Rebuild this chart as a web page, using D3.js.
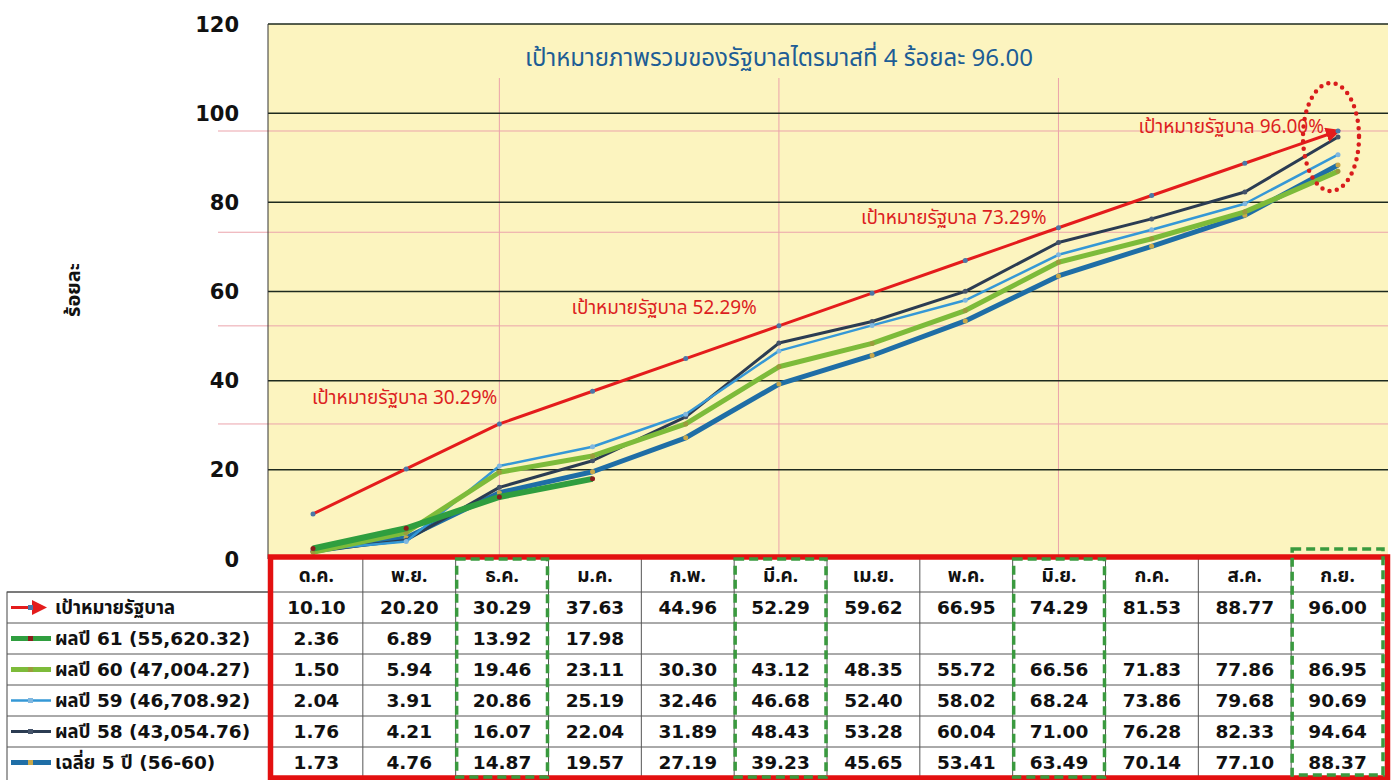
<!DOCTYPE html>
<html>
<head>
<meta charset="utf-8">
<script src="https://cdn.jsdelivr.net/npm/d3@7"></script>
<style>
    body { margin: 0; background: #fff; }
    svg { display: block; }
    .thai { font-family: "Noto Sans Thai", "Noto Sans", "DejaVu Sans", sans-serif; }
    .mixed { font-family: "DejaVu Sans", "Noto Sans Thai", sans-serif; }
    .num { font-family: "DejaVu Sans", sans-serif; font-weight: bold; }
</style>
</head>
<body>
<div id="chart"></div>
<script>
const months = ["ด.ค.", "พ.ย.", "ธ.ค.", "ม.ค.", "ก.พ.", "มี.ค.", "เม.ย.", "พ.ค.", "มิ.ย.", "ก.ค.", "ส.ค.", "ก.ย."];
const target = [10.10, 20.20, 30.29, 37.63, 44.96, 52.29, 59.62, 66.95, 74.29, 81.53, 88.77, 96.00];
const result61 = [2.36, 6.89, 13.92, 17.98, null, null, null, null, null, null, null, null];
const result60 = [1.50, 5.94, 19.46, 23.11, 30.30, 43.12, 48.35, 55.72, 66.56, 71.83, 77.86, 86.95];
const result59 = [2.04, 3.91, 20.86, 25.19, 32.46, 46.68, 52.40, 58.02, 68.24, 73.86, 79.68, 90.69];
const result58 = [1.76, 4.21, 16.07, 22.04, 31.89, 48.43, 53.28, 60.04, 71.00, 76.28, 82.33, 94.64];
const avg5 = [1.73, 4.76, 14.87, 19.57, 27.19, 39.23, 45.65, 53.41, 63.49, 70.14, 77.10, 88.37];
const seriesLabels = ["เป้าหมายรัฐบาล", "ผลปี 61 (55,620.32)", "ผลปี 60 (47,004.27)", "ผลปี 59 (46,708.92)", "ผลปี 58 (43,054.76)", "เฉลี่ย 5 ปี (56-60)"];
const quarterMonths = ["ธ.ค.", "มี.ค.", "มิ.ย.", "ก.ย."];
const quarterTargets = [30.29, 52.29, 73.29, 96.00];
const yTicks = [0, 20, 40, 60, 80, 100, 120];
const title = "เป้าหมายภาพรวมของรัฐบาลไตรมาสที่ 4 ร้อยละ 96.00";
const yTitle = "ร้อยละ";

const width = 1391, height = 780;
const plot = {left: 268, right: 1388, top: 24, bottom: 559};

const svg = d3.select("#chart").append("svg")
    .attr("width", width)
    .attr("height", height);

const y = d3.scaleLinear().domain([0, 120]).range([plot.bottom, plot.top]);
const x = d3.scalePoint().domain(months).range([313, 1338]);
const col = d3.scaleBand().domain(months).range([270, 1384]);

// series: drawn bottom to top
const series = [
    {name: seriesLabels[5], values: avg5, color: "#1f6ea6", w: 5, dot: "#c9a84a"},
    {name: seriesLabels[4], values: result58, color: "#2b3c52", w: 3, dot: "#44536a"},
    {name: seriesLabels[3], values: result59, color: "#3598d6", w: 2.5, dot: "#7fb7e0"},
    {name: seriesLabels[2], values: result60, color: "#7dbb3a", w: 5, dot: "#9c9a3c"},
    {name: seriesLabels[1], values: result61, color: "#2f9e3f", w: 6, dot: "#8b1c1c"},
    {name: seriesLabels[0], values: target, color: "#e41c1c", w: 3, dot: "#4b77a8"},
];

const defs = svg.append("defs");
defs.append("marker")
    .attr("id", "arrow")
    .attr("viewBox", "0 0 10 10")
    .attr("refX", 8).attr("refY", 5)
    .attr("markerWidth", 5).attr("markerHeight", 5)
    .attr("orient", "auto")
    .attr("markerUnits", "strokeWidth")
    .append("path")
    .attr("d", "M0,0 L10,5 L0,10 z")
    .attr("fill", "#e41c1c");

// plot background
svg.append("rect")
    .attr("x", plot.left).attr("y", plot.top)
    .attr("width", plot.right - plot.left).attr("height", plot.bottom - plot.top)
    .attr("fill", "#fcf4bf");

// pink guide lines for the quarter targets
svg.append("g").selectAll("line")
    .data(quarterTargets)
    .join("line")
    .attr("x1", 218).attr("x2", plot.right)
    .attr("y1", d => y(d)).attr("y2", d => y(d))
    .attr("stroke", "#eba3ab").attr("stroke-width", 1);

svg.append("g").selectAll("line")
    .data(quarterMonths.slice(0, 3))
    .join("line")
    .attr("x1", d => x(d)).attr("x2", d => x(d))
    .attr("y1", 78).attr("y2", plot.bottom)
    .attr("stroke", "#eba3ab").attr("stroke-width", 1);

// gridlines
svg.append("g").selectAll("line")
    .data(yTicks.filter(d => d > 0))
    .join("line")
    .attr("x1", plot.left).attr("x2", plot.right)
    .attr("y1", d => y(d)).attr("y2", d => y(d))
    .attr("stroke", "#1e2a1e").attr("stroke-width", 1.5);

svg.append("line")
    .attr("x1", plot.left).attr("x2", plot.left)
    .attr("y1", plot.top).attr("y2", plot.bottom)
    .attr("stroke", "#333").attr("stroke-width", 1);

// y axis labels
svg.append("g").selectAll("text")
    .data(yTicks)
    .join("text")
    .attr("class", "num")
    .attr("x", 239)
    .attr("y", d => y(d))
    .attr("dy", "0.36em")
    .attr("text-anchor", "end")
    .attr("font-size", 21)
    .attr("fill", "#111")
    .text(d => d);

svg.append("text")
    .attr("class", "thai")
    .attr("transform", "translate(80,290) rotate(-90)")
    .attr("text-anchor", "middle")
    .attr("font-weight", "bold")
    .attr("font-size", 20)
    .attr("fill", "#111")
    .text(yTitle);

svg.append("text")
    .attr("class", "thai")
    .attr("x", 779).attr("y", 66)
    .attr("text-anchor", "middle")
    .attr("font-size", 24)
    .attr("fill", "#1d5d95")
    .text(title);

// lines
const line = d3.line()
    .defined(d => d.v !== null)
    .x(d => x(d.m))
    .y(d => y(d.v));

series.forEach((s, i) => {
    let pts = s.values.map((v, j) => ({m: months[j], v: v}));
    let path = svg.append("path")
        .datum(pts)
        .attr("d", line)
        .attr("fill", "none")
        .attr("stroke", s.color)
        .attr("stroke-width", s.w)
        .attr("stroke-linejoin", "round");
    if (s.values === target) {
        path.attr("marker-end", "url(#arrow)");
    }
    svg.append("g").selectAll("circle")
        .data(pts.filter(d => d.v !== null))
        .join("circle")
        .attr("cx", d => x(d.m))
        .attr("cy", d => y(d.v))
        .attr("r", 2.5)
        .attr("fill", s.dot);
});

// target annotations
const annoOffsets = [[-2, -20], [-22, -12], [-12, -8], [-14, 2]];
svg.append("g").selectAll("text")
    .data(quarterTargets)
    .join("text")
    .attr("class", "thai")
    .attr("x", (d, i) => x(quarterMonths[i]) + annoOffsets[i][0])
    .attr("y", (d, i) => y(d) + annoOffsets[i][1])
    .attr("text-anchor", "end")
    .attr("font-size", 19)
    .attr("fill", "#dc1f1f")
    .text(d => "เป้าหมายรัฐบาล " + d.toFixed(2) + "%");

// dotted ellipse around September
svg.append("ellipse")
    .attr("cx", x("ก.ย.") - 7).attr("cy", y(96) + 6)
    .attr("rx", 28).attr("ry", 54)
    .attr("fill", "none")
    .attr("stroke", "#d91c1c")
    .attr("stroke-width", 4.5)
    .attr("stroke-linecap", "round")
    .attr("stroke-dasharray", "0 7.5");

// data table
const tableTop = 557, headH = 35, rowH = 31;
const rows = [target, result61, result60, result59, result58, avg5];
const table = svg.append("g");

table.append("rect")
    .attr("x", 270).attr("y", tableTop)
    .attr("width", 1114).attr("height", 230)
    .attr("fill", "#fff");
table.append("rect")
    .attr("x", 7).attr("y", tableTop + headH)
    .attr("width", 263).attr("height", 200)
    .attr("fill", "#fff")
    .attr("stroke", "#444").attr("stroke-width", 1);

// horizontal rules
table.selectAll(".hrule")
    .data(d3.range(rows.length))
    .join("line")
    .attr("x1", 7).attr("x2", 1384)
    .attr("y1", i => tableTop + headH + i * rowH)
    .attr("y2", i => tableTop + headH + i * rowH)
    .attr("stroke", "#555").attr("stroke-width", 1);

// vertical rules
table.selectAll(".vrule")
    .data(months.slice(1))
    .join("line")
    .attr("x1", d => col(d)).attr("x2", d => col(d))
    .attr("y1", tableTop).attr("y2", height)
    .attr("stroke", "#555").attr("stroke-width", 1);

// header
table.selectAll(".head")
    .data(months)
    .join("text")
    .attr("class", "thai")
    .attr("x", d => col(d) + col.bandwidth() / 2)
    .attr("y", tableTop + headH / 2 + 1)
    .attr("dy", "0.36em")
    .attr("text-anchor", "middle")
    .attr("font-weight", "bold")
    .attr("font-size", 19)
    .attr("fill", "#111")
    .text(d => d);

// values
rows.forEach((vals, r) => {
    let ry = tableTop + headH + r * rowH + rowH / 2;
    table.append("g").selectAll("text")
        .data(vals.map((v, j) => ({m: months[j], v: v})).filter(d => d.v !== null))
        .join("text")
        .attr("class", "num")
        .attr("x", d => col(d.m) + col.bandwidth() / 2)
        .attr("y", ry)
        .attr("dy", "0.36em")
        .attr("text-anchor", "middle")
        .attr("font-size", 18.5)
        .attr("fill", "#111")
        .text(d => d.v.toFixed(2));
});

// legend column
const legendSeries = series.slice().reverse();
legendSeries.forEach((s, r) => {
    let ry = tableTop + headH + r * rowH + rowH / 2;
    let g = table.append("g");
    g.append("line")
        .attr("x1", 11).attr("x2", r === 0 ? 44 : 51)
        .attr("y1", ry).attr("y2", ry)
        .attr("stroke", s.color)
        .attr("stroke-width", r === 0 ? 3 : Math.min(s.w, 5))
        .attr("marker-end", r === 0 ? "url(#arrow)" : null);
    g.append("rect")
        .attr("x", 28).attr("y", ry - 2.5)
        .attr("width", 5).attr("height", 5)
        .attr("fill", s.dot);
    g.append("text")
        .attr("class", "mixed")
        .attr("x", 55).attr("y", ry)
        .attr("dy", "0.36em")
        .attr("font-weight", "bold")
        .attr("font-size", 18.5)
        .attr("fill", "#111")
        .text(s.name);
});

// red frame and quarter boxes
table.append("rect")
    .attr("x", 270.5).attr("y", tableTop)
    .attr("width", 1117).attr("height", 221)
    .attr("fill", "none")
    .attr("stroke", "#e31010").attr("stroke-width", 5.5);

table.selectAll(".qbox")
    .data(quarterMonths)
    .join("rect")
    .attr("x", d => col(d) + 1)
    .attr("y", d => d === "ก.ย." ? 549 : tableTop + 2)
    .attr("width", col.bandwidth() - 2)
    .attr("height", d => d === "ก.ย." ? 226 : 218)
    .attr("fill", "none")
    .attr("stroke", "#3a9a3f").attr("stroke-width", 3.5)
    .attr("stroke-dasharray", "9,5");
</script>
</body>
</html>
